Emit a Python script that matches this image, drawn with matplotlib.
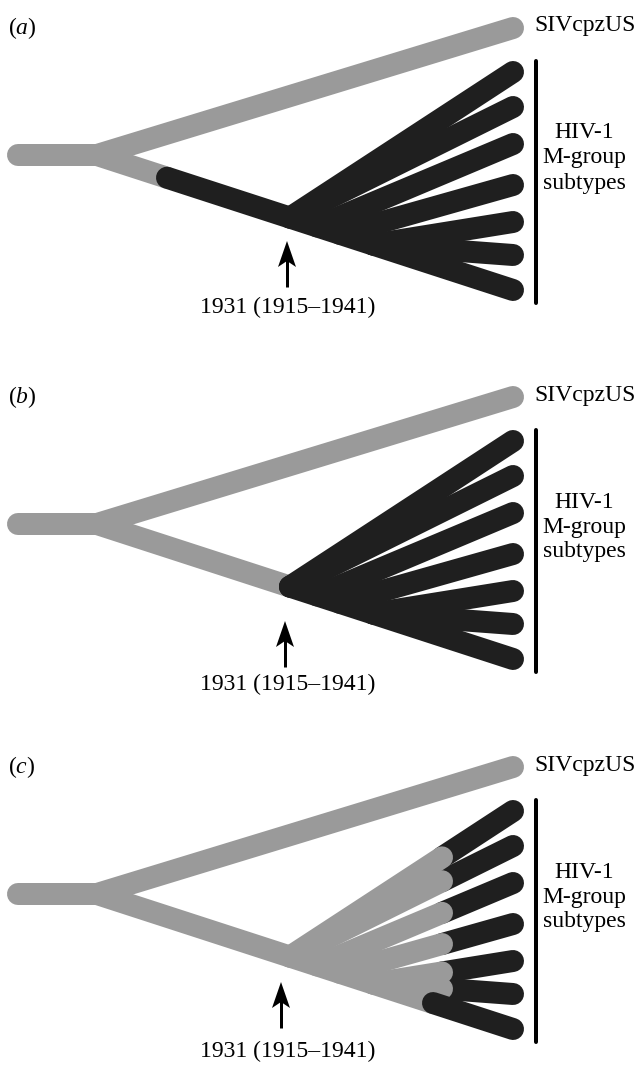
import matplotlib
matplotlib.use("Agg")
import matplotlib.pyplot as plt
from matplotlib.patches import Polygon

plt.rcParams['font.family'] = ['Liberation Serif', 'DejaVu Serif']
plt.rcParams['mathtext.fontset'] = 'custom'
plt.rcParams['mathtext.rm'] = 'Liberation Serif'
plt.rcParams['mathtext.it'] = 'Liberation Serif:italic'

# ---- data (tree drawn in pixel units of a 640 x 1066 canvas) ----
panel_letters = ['a', 'b', 'c']
panel_offsets = [0, 369, 739]
# x where the trunk turns black, and x where the subtype branches turn black
trunk_black_from_x = [167, 290, 433]
branch_black_from_x = [0, 0, 442]

stub_x = [18, 97]
root_y = 155
siv_tip = (513, 28)
tip_x = 513
subtype_tip_y = [72, 107, 144, 185, 222, 255, 290]
# start (x on the trunk) of subtype branches 1-6; subtype 7 is the trunk end
subtype_start_x = [290, 290, 317, 340, 373, 373]

bar_x = 536
bar_y = [61, 303]
arrow_x = [287, 285, 281]
arrow_tip_y = [241, 252, 243]
arrow_len = 46
date_label = '1931 (1915\u20131941)'
date_label_x = 288
date_label_y = [307, 315, 312]
siv_label = 'SIVcpzUS'
hiv_label = 'HIV-1\nM-group\nsubtypes'

GREY = '#9a9a9a'
BLACK = '#1f1f1f'
LW = 22 * 0.72
FS = 17

fig = plt.figure(figsize=(6.4, 10.66), dpi=100)
ax = fig.add_axes([0, 0, 1, 1])
ax.set_xlim(0, 640)
ax.set_ylim(1066, 0)
ax.axis('off')


def trunk_y(x):
    return root_y + (subtype_tip_y[-1] - root_y) * (x - stub_x[1]) / (tip_x - stub_x[1])


def line_y(p, q, x):
    return p[1] + (q[1] - p[1]) * (x - p[0]) / (q[0] - p[0])


def draw(p, q, color, z, dy):
    ax.plot([p[0], q[0]], [p[1] + dy, q[1] + dy], color=color, lw=LW,
            solid_capstyle='round', zorder=z)


def draw_split(p, q, sx, dy, zgrey, zblack):
    if q[0] <= sx:
        draw(p, q, GREY, zgrey, dy)
    elif p[0] >= sx:
        draw(p, q, BLACK, zblack, dy)
    else:
        mid = (sx, line_y(p, q, sx))
        draw(p, mid, GREY, zgrey, dy)
        draw(mid, q, BLACK, zblack, dy)


root = (stub_x[1], root_y)
tips = [(tip_x, y) for y in subtype_tip_y]
branches = [((sx, trunk_y(sx)), tips[k]) for k, sx in enumerate(subtype_start_x)]

for i, letter in enumerate(panel_letters):
    dy = panel_offsets[i]
    # grey stem and SIV branch
    draw((stub_x[0], root_y), root, GREY, 3, dy)
    draw(root, siv_tip, GREY, 3, dy)
    # subtype branches
    for p, q in branches:
        draw_split(p, q, branch_black_from_x[i], dy, 3, 2 if i == 2 else 4)
    # trunk leading to subtype 7
    draw_split(root, tips[-1], trunk_black_from_x[i], dy, 3, 5)

    # vertical bar
    ax.plot([bar_x, bar_x], [bar_y[0] + dy, bar_y[1] + dy], color='black',
            lw=4 * 0.72, solid_capstyle='round', zorder=6)
    # arrow
    ax_, ay0 = arrow_x[i], arrow_tip_y[i] + dy
    ax.plot([ax_, ax_], [ay0 + 18, ay0 + arrow_len], color='black', lw=3 * 0.72,
            solid_capstyle='butt', zorder=6)
    ax.add_patch(Polygon([(ax_, ay0), (ax_ - 9, ay0 + 26), (ax_, ay0 + 20),
                          (ax_ + 9, ay0 + 26)], closed=True, color='black', lw=0,
                         zorder=7))
    # texts
    ax.text(date_label_x, date_label_y[i] + dy, date_label, ha='center', va='center',
            fontsize=FS)
    ax.text(534, 26 + dy, siv_label, ha='left', va='center', fontsize=FS)
    ax.text(584, 158 + dy, hiv_label, ha='center', va='center', fontsize=FS,
            linespacing=1.25)
    ax.text(8, 28 + dy, '(' + r'$\mathit{' + letter + '}$' + ')', ha='left',
            va='center', fontsize=FS)

fig.savefig('out.png', dpi=100)
